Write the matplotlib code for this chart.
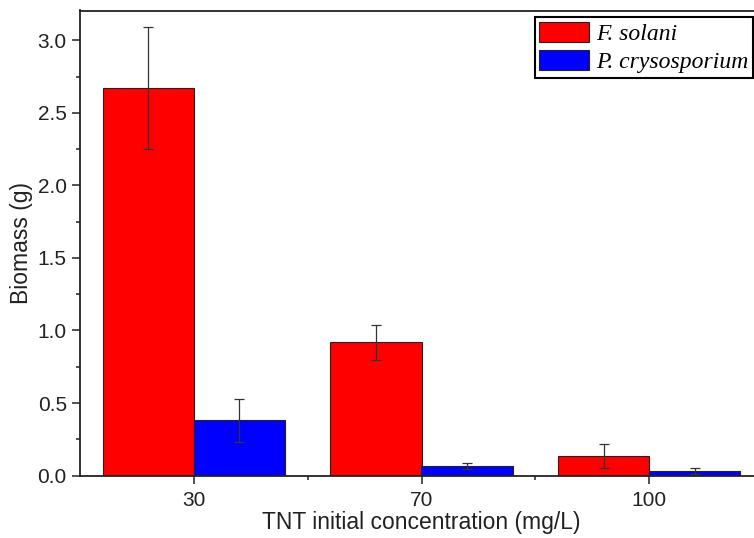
import matplotlib
matplotlib.use("Agg")
import matplotlib.pyplot as plt
import numpy as np
from matplotlib.ticker import MultipleLocator, FixedLocator

categories = ["30", "70", "100"]
series_names = ["F. solani", "P. crysosporium"]
fsolani = [2.67, 0.92, 0.135]
fsolani_err = [0.42, 0.12, 0.08]
pcryso = [0.38, 0.065, 0.03]
pcryso_err = [0.148, 0.02, 0.02]
colors = ["#FF0000", "#0000FF"]

W, H = 754, 538
fig = plt.figure(figsize=(W/100, H/100), dpi=100)
ax = fig.add_axes([80/W, (H-475.6)/H, (763-80)/W, (475.6-10.5)/H])

x = np.arange(len(categories))
bw = 0.4
ekw = dict(ecolor="#333333", elinewidth=0.9, capsize=3.5, capthick=0.9)
ax.bar(x - bw/2, fsolani, bw, yerr=fsolani_err, color=colors[0], edgecolor="#222222",
       linewidth=0.8, label=series_names[0], error_kw=ekw, zorder=2)
ax.bar(x + bw/2, pcryso, bw, yerr=pcryso_err, color=colors[1], edgecolor="#222222",
       linewidth=0.8, label=series_names[1], error_kw=ekw, zorder=2)

ax.set_xlim(-0.5, 2.5)
ax.set_ylim(0, 3.205)
ax.xaxis.set_major_locator(FixedLocator(x))
ax.set_xticklabels(categories)
ax.xaxis.set_minor_locator(FixedLocator([0.5, 1.5]))
ax.yaxis.set_major_locator(MultipleLocator(0.5))
ax.yaxis.set_minor_locator(MultipleLocator(0.25))
ax.yaxis.set_major_formatter(matplotlib.ticker.FormatStrFormatter("%.1f"))

for s in ["left", "bottom", "top", "right"]:
    ax.spines[s].set_linewidth(1.3)
    ax.spines[s].set_color("#222222")

ax.tick_params(axis="both", which="major", direction="out", length=6, width=1.1,
               labelsize=15, colors="#222222", labelcolor="#222222")
ax.tick_params(axis="both", which="minor", direction="out", length=3, width=1.1, colors="#222222")
ax.tick_params(axis="x", which="major", pad=5)
for lab in ax.get_xticklabels() + ax.get_yticklabels():
    lab.set_family("Liberation Sans")

ax.set_xlabel("TNT initial concentration (mg/L)", fontsize=16.5, family="Liberation Sans",
              color="#222222", labelpad=1)
ax.set_ylabel("Biomass (g)", fontsize=16.5, family="Liberation Sans", color="#222222", labelpad=3)

leg = fig.legend(loc="upper right", bbox_to_anchor=(753/W, 1-17/H),
                 prop={"family": "Liberation Serif", "style": "italic", "size": 17},
                 frameon=True, fancybox=False, edgecolor="black", framealpha=1,
                 handlelength=2.1, handleheight=0.95, borderpad=0.2, labelspacing=0.2,
                 handletextpad=0.3, borderaxespad=0)
leg.get_frame().set_linewidth(1.5)

fig.savefig("out.png", dpi=100)
